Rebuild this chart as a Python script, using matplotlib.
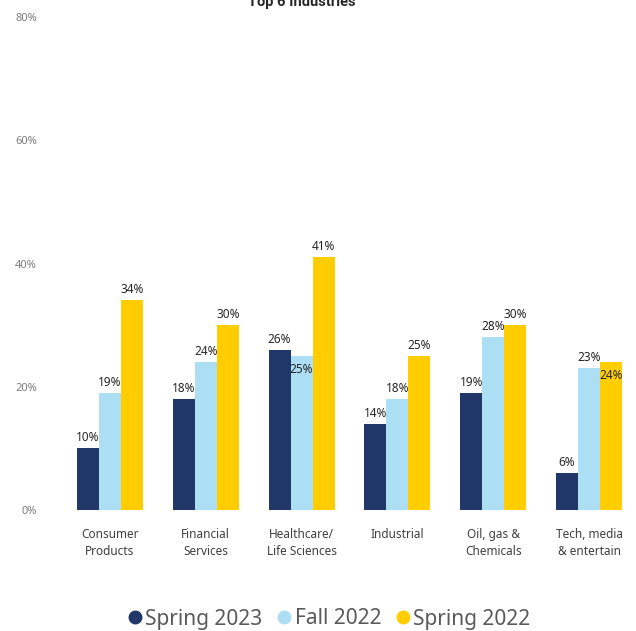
import matplotlib
matplotlib.use("Agg")
import matplotlib.pyplot as plt
from matplotlib.lines import Line2D
import numpy as np

plt.rcParams['font.family'] = ['Noto Sans', 'DejaVu Sans']

industries = ['Consumer\nProducts', 'Financial\nServices', 'Healthcare/\nLife Sciences',
              'Industrial', 'Oil, gas &\nChemicals', 'Tech, media\n& entertain']
series = ['Spring 2023', 'Fall 2022', 'Spring 2022']
spring_2023 = [10, 18, 26, 14, 19, 6]
fall_2022 = [19, 24, 25, 18, 28, 23]
spring_2022 = [34, 30, 41, 25, 30, 24]
colors = ['#1F3769', '#ADDFF4', '#FFCD00']
yticks = [0, 20, 40, 60, 80]

# labels that would collide with a neighbour are tucked inside the bar
tucked = {(1, 2), (2, 5)}

fig = plt.figure(figsize=(6.36, 6.31), dpi=100)
ax = fig.add_axes([62 / 636, 121 / 631, 575 / 636, 493 / 631])

x = np.arange(len(industries))
w = 0.23
for s, vals in enumerate([spring_2023, fall_2022, spring_2022]):
    xs = x + (s - 1) * w
    ax.bar(xs, vals, width=w, color=colors[s], linewidth=0)
    for i, v in enumerate(vals):
        if (s, i) in tucked:
            ax.annotate(f'{v}%', (xs[i], v), xytext=(0, -5), textcoords='offset points',
                        ha='center', va='top', fontsize=8.5, color='#262626')
        else:
            ax.annotate(f'{v}%', (xs[i], v), xytext=(0, 3), textcoords='offset points',
                        ha='center', va='bottom', fontsize=8.5, color='#262626')

ax.set_xlim(-0.5, 5.5)
ax.set_ylim(0, 80)
ax.set_yticks(yticks)
ax.set_yticklabels([f'{t}%' for t in yticks], fontsize=8, color='#7F7F7F')
ax.set_xticks(x)
ax.set_xticklabels(industries, fontsize=8.5, color='#404040', linespacing=1.4)
ax.tick_params(axis='y', length=0, pad=18)
ax.tick_params(axis='x', length=0, pad=13)
for sp in ax.spines.values():
    sp.set_visible(False)

fig.text(302 / 636, 1 - 6 / 631, 'Top 6 Industries', ha='center', va='baseline',
         fontsize=10.5, fontweight='bold', color='#262626', family=['Roboto', 'DejaVu Sans'])

handles = [Line2D([], [], marker='o', ls='', markersize=9, color=c) for c in colors]
fig.legend(handles, series, loc='center', bbox_to_anchor=(329 / 636, 1 - 619 / 631),
           ncol=3, frameon=False, fontsize=15, labelcolor='#595959',
           handletextpad=0.15, columnspacing=0.7, handlelength=0.7)

fig.savefig('out.png', dpi=100)
